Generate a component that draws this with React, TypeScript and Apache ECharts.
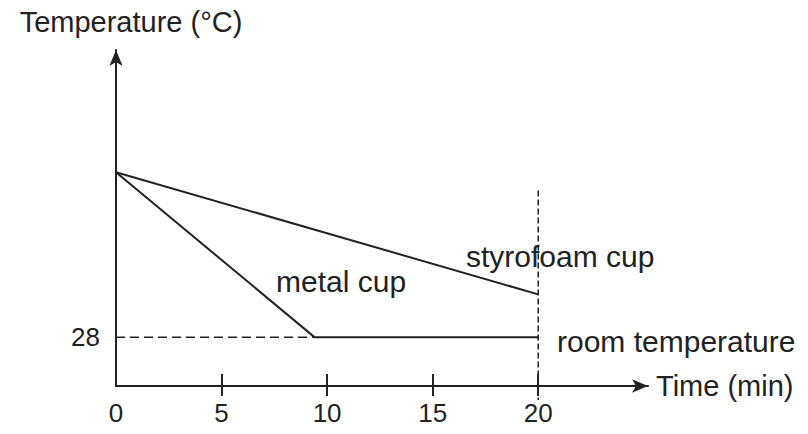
import React, { useEffect, useRef } from "react";
import * as echarts from "echarts";

const styrofoamCup: [number, number][] = [[0, 55], [20, 35]];
const metalCup: [number, number][] = [[0, 55], [9.4, 28], [20, 28]];
const roomTempGuide: [number, number][] = [[0, 28], [9.4, 28]];
const timeMarker: [number, number][] = [[20, 52], [20, 17.7]];
const xTickValues = [0, 5, 10, 15, 20];
const xTickMarks = [5, 10, 15, 20];
const yTickLabels = [28];

const INK = "#222";
const FONT = "Liberation Sans, Arial, sans-serif";

export default function App() {
  const ref = useRef<HTMLDivElement>(null);
  useEffect(() => {
    document.body.style.margin = "0";
    if (!ref.current) return;
    const chart = echarts.init(ref.current, undefined, { renderer: "svg" });
    chart.setOption({
      animation: false,
      backgroundColor: "#fff",
      grid: { left: 116, right: 160, top: 50, bottom: 48 },
      xAxis: [
        {
          type: "value",
          min: 0,
          max: 25.2,
          interval: 5,
          splitLine: { show: false },
          axisLine: {
            lineStyle: { color: INK, width: 2 },
            symbol: ["none", "arrow"],
            symbolSize: [10, 16],
          },
          axisTick: {
            show: true,
            length: 10,
            customValues: xTickMarks,
            lineStyle: { color: INK, width: 2 },
          },
          axisLabel: {
            customValues: xTickValues,
            margin: 14,
            fontSize: 26,
            color: INK,
            fontFamily: FONT,
          },
          name: "Time (min)",
          nameLocation: "end",
          nameGap: 8,
          nameTextStyle: { fontSize: 29, color: INK, fontFamily: FONT, verticalAlign: "middle", align: "left" },
        },
        {
          type: "value",
          min: 0,
          max: 25.2,
          interval: 5,
          position: "bottom",
          splitLine: { show: false },
          axisLine: { show: false },
          axisTick: {
            show: true,
            inside: true,
            length: 12,
            customValues: xTickMarks,
            lineStyle: { color: INK, width: 2 },
          },
          axisLabel: { show: false },
        },
      ],
      yAxis: {
        type: "value",
        min: 20,
        max: 75,
        splitLine: { show: false },
        axisLine: {
          show: true,
          lineStyle: { color: INK, width: 2 },
          symbol: ["none", "arrow"],
          symbolSize: [10, 16],
        },
        axisTick: { show: false },
        axisLabel: {
          customValues: yTickLabels,
          margin: 16,
          fontSize: 26,
          color: INK,
          fontFamily: FONT,
        },
        name: "Temperature (°C)",
        nameLocation: "end",
        nameGap: 14,
        nameTextStyle: { fontSize: 29, color: INK, fontFamily: FONT, align: "center", padding: [0, 0, 0, 30] },
      },
      series: [
        {
          name: "styrofoam cup",
          type: "line",
          data: styrofoamCup,
          symbol: "none",
          lineStyle: { color: INK, width: 2 },
        },
        {
          name: "metal cup",
          type: "line",
          data: metalCup,
          symbol: "none",
          lineStyle: { color: INK, width: 2 },
        },
        {
          name: "room temperature guide",
          type: "line",
          data: roomTempGuide,
          symbol: "none",
          lineStyle: { color: INK, width: 1.5, type: [9, 5] },
        },
        {
          name: "20 min",
          type: "line",
          data: timeMarker,
          symbol: "none",
          clip: false,
          lineStyle: { color: INK, width: 1.5, type: [6, 3] },
        },
      ],
      graphic: [
        { type: "text", left: 276, top: 266, style: { text: "metal cup", fontSize: 30, fill: INK, fontFamily: FONT } },
        { type: "text", left: 466, top: 241, style: { text: "styrofoam cup", fontSize: 30, fill: INK, fontFamily: FONT } },
        { type: "text", left: 557, top: 326, style: { text: "room temperature", fontSize: 30, fill: INK, fontFamily: FONT } },
      ],
    });
    return () => chart.dispose();
  }, []);
  return <div ref={ref} style={{ width: 808, height: 434 }} />;
}
